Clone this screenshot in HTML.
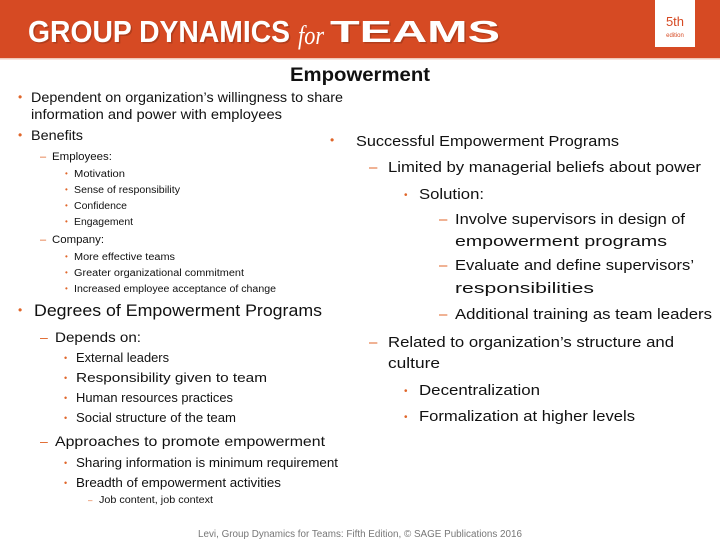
<!DOCTYPE html>
<html><head><meta charset="utf-8"><style>
html,body{margin:0;padding:0;background:#fff;}
svg{display:block;font-family:"Liberation Sans",Arial,sans-serif;}
.t{fill:#111;}
.o{fill:#e0662a;}
</style></head><body>
<svg width="720" height="540" viewBox="0 0 720 540">
<rect x="0" y="0" width="720" height="58" fill="#d64a23"/>
<rect x="0" y="58" width="720" height="1.5" fill="#f0c8b8"/>
<g fill="#fff" font-weight="bold">
<text x="28" y="42" font-size="31" textLength="262" lengthAdjust="spacingAndGlyphs" fill="#7a2a12" opacity="0.4" transform="translate(1.5,1.5)">GROUP DYNAMICS</text>
<text x="28" y="42" font-size="31" textLength="262" lengthAdjust="spacingAndGlyphs">GROUP DYNAMICS</text>
<text x="298" y="44" font-size="26" font-style="italic" font-weight="normal" font-family="Liberation Serif,serif" textLength="26" lengthAdjust="spacingAndGlyphs">for</text>
<text x="330" y="42" font-size="31" textLength="170" lengthAdjust="spacingAndGlyphs" fill="#7a2a12" opacity="0.4" transform="translate(1.5,1.5)">TEAMS</text>
<text x="330" y="42" font-size="31" textLength="170" lengthAdjust="spacingAndGlyphs">TEAMS</text>
</g>
<g>
<rect x="655" y="0" width="40" height="47" fill="#fff"/>
<text x="675" y="26" font-size="13" text-anchor="middle" fill="#d64a23">5th</text>
<text x="675" y="37" font-size="6" text-anchor="middle" fill="#d64a23">edition</text>
</g>
<text x="360" y="81" font-size="19" font-weight="bold" text-anchor="middle" class="t" textLength="140" lengthAdjust="spacingAndGlyphs">Empowerment</text>

<g>
<text x="18" y="101" font-size="12" class="o">•</text>
<text x="31" y="102" font-size="14" class="t" textLength="312" lengthAdjust="spacingAndGlyphs">Dependent on organization’s willingness to share</text>
<text x="31" y="119" font-size="14" class="t" textLength="251" lengthAdjust="spacingAndGlyphs">information and power with employees</text>
<text x="18" y="139" font-size="12" class="o">•</text>
<text x="31" y="140" font-size="14" class="t" textLength="52" lengthAdjust="spacingAndGlyphs">Benefits</text>
<text x="40" y="160" font-size="11" class="o">–</text>
<text x="52" y="160" font-size="11" class="t" textLength="60" lengthAdjust="spacingAndGlyphs">Employees:</text>
<text x="65" y="176" font-size="8" class="o">•</text><text x="74" y="177" font-size="10" class="t" textLength="51" lengthAdjust="spacingAndGlyphs">Motivation</text>
<text x="65" y="192" font-size="8" class="o">•</text><text x="74" y="193" font-size="10" class="t" textLength="106" lengthAdjust="spacingAndGlyphs">Sense of responsibility</text>
<text x="65" y="208" font-size="8" class="o">•</text><text x="74" y="209" font-size="10" class="t" textLength="53" lengthAdjust="spacingAndGlyphs">Confidence</text>
<text x="65" y="224" font-size="8" class="o">•</text><text x="74" y="225" font-size="10" class="t" textLength="59" lengthAdjust="spacingAndGlyphs">Engagement</text>
<text x="40" y="243" font-size="11" class="o">–</text>
<text x="52" y="243" font-size="11" class="t" textLength="52" lengthAdjust="spacingAndGlyphs">Company:</text>
<text x="65" y="259" font-size="8" class="o">•</text><text x="74" y="260" font-size="10" class="t" textLength="101" lengthAdjust="spacingAndGlyphs">More effective teams</text>
<text x="65" y="275" font-size="8" class="o">•</text><text x="74" y="276" font-size="10" class="t" textLength="170" lengthAdjust="spacingAndGlyphs">Greater organizational commitment</text>
<text x="65" y="291" font-size="8" class="o">•</text><text x="74" y="292" font-size="10" class="t" textLength="202" lengthAdjust="spacingAndGlyphs">Increased employee acceptance of change</text>
<text x="18" y="314" font-size="12" class="o">•</text>
<text x="34" y="316" font-size="16.5" class="t" textLength="288" lengthAdjust="spacingAndGlyphs">Degrees of Empowerment Programs</text>
<text x="40" y="342" font-size="14" class="o">–</text>
<text x="55" y="342" font-size="14" class="t" textLength="86" lengthAdjust="spacingAndGlyphs">Depends on:</text>
<text x="64" y="361" font-size="9" class="o">•</text><text x="76" y="362" font-size="12.5" class="t" textLength="93" lengthAdjust="spacingAndGlyphs">External leaders</text>
<text x="64" y="381" font-size="9" class="o">•</text><text x="76" y="382" font-size="12.5" class="t" textLength="191" lengthAdjust="spacingAndGlyphs">Responsibility given to team</text>
<text x="64" y="401" font-size="9" class="o">•</text><text x="76" y="402" font-size="12.5" class="t" textLength="157" lengthAdjust="spacingAndGlyphs">Human resources practices</text>
<text x="64" y="421" font-size="9" class="o">•</text><text x="76" y="422" font-size="12.5" class="t" textLength="160" lengthAdjust="spacingAndGlyphs">Social structure of the team</text>
<text x="40" y="446" font-size="14" class="o">–</text>
<text x="55" y="446" font-size="14" class="t" textLength="270" lengthAdjust="spacingAndGlyphs">Approaches to promote empowerment</text>
<text x="64" y="466" font-size="9" class="o">•</text><text x="76" y="467" font-size="12.5" class="t" textLength="262" lengthAdjust="spacingAndGlyphs">Sharing information is minimum requirement</text>
<text x="64" y="486" font-size="9" class="o">•</text><text x="76" y="487" font-size="12.5" class="t" textLength="205" lengthAdjust="spacingAndGlyphs">Breadth of empowerment activities</text>
<text x="88" y="503" font-size="8" class="o">–</text>
<text x="99" y="503" font-size="10" class="t" textLength="114" lengthAdjust="spacingAndGlyphs">Job content, job context</text>
</g>

<g>
<text x="330" y="144" font-size="12" class="o">•</text>
<text x="356" y="146" font-size="15" class="t" textLength="263" lengthAdjust="spacingAndGlyphs">Successful Empowerment Programs</text>
<text x="369" y="172" font-size="15" class="o">–</text>
<text x="388" y="172" font-size="15" class="t" textLength="313" lengthAdjust="spacingAndGlyphs">Limited by managerial beliefs about power</text>
<text x="404" y="198" font-size="10" class="o">•</text>
<text x="419" y="199" font-size="15" class="t" textLength="65" lengthAdjust="spacingAndGlyphs">Solution:</text>
<text x="439" y="224" font-size="15" class="o">–</text>
<text x="455" y="224" font-size="15" class="t" textLength="230" lengthAdjust="spacingAndGlyphs">Involve supervisors in design of</text>
<text x="455" y="246" font-size="15" class="t" textLength="212" lengthAdjust="spacingAndGlyphs">empowerment programs</text>
<text x="439" y="270" font-size="15" class="o">–</text>
<text x="455" y="270" font-size="15" class="t" textLength="239" lengthAdjust="spacingAndGlyphs">Evaluate and define supervisors’</text>
<text x="455" y="293" font-size="15" class="t" textLength="139" lengthAdjust="spacingAndGlyphs">responsibilities</text>
<text x="439" y="319" font-size="15" class="o">–</text>
<text x="455" y="319" font-size="15" class="t" textLength="257" lengthAdjust="spacingAndGlyphs">Additional training as team leaders</text>
<text x="369" y="347" font-size="15" class="o">–</text>
<text x="388" y="347" font-size="15" class="t" textLength="286" lengthAdjust="spacingAndGlyphs">Related to organization’s structure and</text>
<text x="388" y="368" font-size="15" class="t" textLength="52" lengthAdjust="spacingAndGlyphs">culture</text>
<text x="404" y="394" font-size="10" class="o">•</text>
<text x="419" y="395" font-size="15" class="t" textLength="121" lengthAdjust="spacingAndGlyphs">Decentralization</text>
<text x="404" y="420" font-size="10" class="o">•</text>
<text x="419" y="421" font-size="15" class="t" textLength="216" lengthAdjust="spacingAndGlyphs">Formalization at higher levels</text>
</g>

<text x="360" y="537" font-size="10" fill="#777" text-anchor="middle" textLength="324" lengthAdjust="spacingAndGlyphs">Levi, Group Dynamics for Teams: Fifth Edition, © SAGE Publications 2016</text>
</svg>
</body></html>
